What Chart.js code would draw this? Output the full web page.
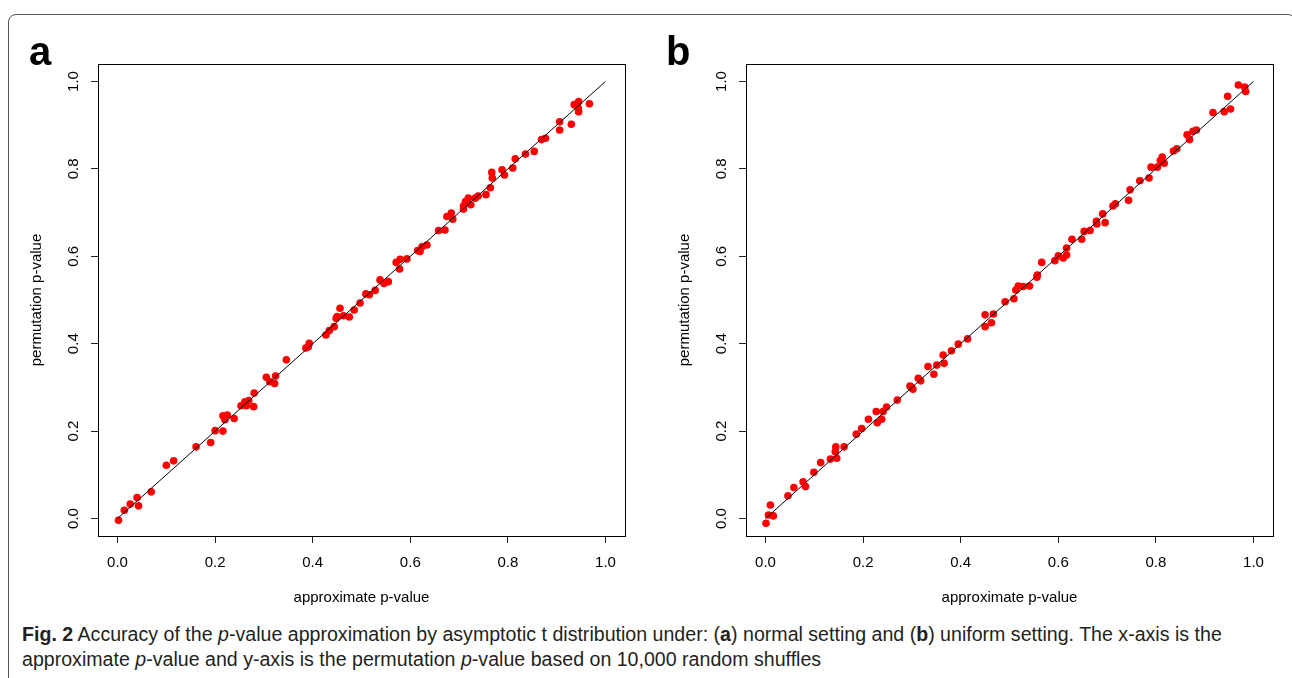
<!DOCTYPE html>
<html>
<head>
<meta charset="utf-8">
<title>Fig. 2 - p-value approximation</title>
<script src="https://cdn.jsdelivr.net/npm/chart.js"></script>
<style>
  body {
    margin: 0;
    width: 1292px;
    height: 678px;
    overflow: hidden;
    background: #fff;
    position: relative;
    font-family: "Liberation Sans", Arial, sans-serif;
  }
  .frame {
    position: absolute;
    left: 8px;
    top: 14px;
    width: 1288px;
    height: 720px;
    box-sizing: border-box;
    border: 1.5px solid #555;
    border-radius: 8px;
  }
  .panel {
    position: absolute;
    top: 0;
  }
  .tag {
    position: absolute;
    top: 31px;
    font: bold 40px/40px "Liberation Sans", Arial, sans-serif;
    color: #000;
  }
  .caption {
    position: absolute;
    left: 22px;
    top: 622px;
    font-family: "Liberation Sans", Arial, sans-serif;
    font-size: 19.6px;
    line-height: 25px;
    color: #231f20;
    white-space: nowrap;
  }
</style>
</head>
<body>
<div class="frame"></div>

<canvas id="chartA" class="panel" width="640" height="620" style="left:0px"></canvas>
<canvas id="chartB" class="panel" width="640" height="620" style="left:648px"></canvas>

<div class="tag" style="left:29px">a</div>
<div class="tag" style="left:666px">b</div>

<div class="caption">
  <b>Fig. 2</b> Accuracy of the <i>p</i>-value approximation by asymptotic t distribution under: (<b>a</b>) normal setting and (<b>b</b>) uniform setting. The x-axis is the<br>
  approximate <i>p</i>-value and y-axis is the permutation <i>p</i>-value based on 10,000 random shuffles
</div>

<script>
// (a) normal setting
var approxA = [0.002, 0.014, 0.026, 0.040, 0.043, 0.069, 0.100, 0.115, 0.161, 0.191,
               0.200, 0.216, 0.216, 0.220, 0.225, 0.239, 0.253, 0.261, 0.269, 0.264,
               0.279, 0.280, 0.305, 0.312, 0.324, 0.322, 0.346, 0.386, 0.393, 0.391,
               0.427, 0.434, 0.444, 0.448, 0.456, 0.450, 0.463, 0.475, 0.485, 0.497,
               0.509, 0.516, 0.528, 0.538, 0.546, 0.555, 0.571, 0.578, 0.579, 0.593,
               0.615, 0.624, 0.620, 0.634, 0.658, 0.671, 0.675, 0.684, 0.687, 0.709,
               0.713, 0.719, 0.724, 0.733, 0.739, 0.709, 0.755, 0.764, 0.767, 0.768,
               0.788, 0.793, 0.810, 0.815, 0.836, 0.854, 0.869, 0.877, 0.906, 0.906,
               0.930, 0.936, 0.945, 0.945, 0.944, 0.967];
var permA   = [-0.004, 0.019, 0.033, 0.048, 0.029, 0.061, 0.122, 0.132, 0.164, 0.174,
               0.201, 0.200, 0.235, 0.226, 0.237, 0.229, 0.258, 0.267, 0.270, 0.258,
               0.256, 0.287, 0.323, 0.313, 0.326, 0.309, 0.363, 0.390, 0.401, 0.393,
               0.420, 0.430, 0.439, 0.458, 0.481, 0.462, 0.464, 0.461, 0.477, 0.493,
               0.514, 0.512, 0.522, 0.546, 0.538, 0.542, 0.586, 0.571, 0.593, 0.594,
               0.613, 0.622, 0.611, 0.626, 0.659, 0.660, 0.691, 0.699, 0.685, 0.715,
               0.725, 0.733, 0.718, 0.733, 0.738, 0.708, 0.741, 0.757, 0.792, 0.779,
               0.798, 0.786, 0.802, 0.823, 0.834, 0.840, 0.867, 0.870, 0.908, 0.889,
               0.902, 0.947, 0.954, 0.931, 0.939, 0.949];

// (b) uniform setting
var approxB = [0.001, 0.006, 0.016, 0.010, 0.046, 0.058, 0.077, 0.082, 0.099, 0.113,
               0.133, 0.143, 0.144, 0.146, 0.161, 0.186, 0.197, 0.211, 0.227, 0.229,
               0.238, 0.241, 0.248, 0.270, 0.296, 0.302, 0.299, 0.313, 0.318, 0.333,
               0.345, 0.351, 0.366, 0.364, 0.381, 0.395, 0.414, 0.450, 0.450, 0.463,
               0.467, 0.491, 0.509, 0.513, 0.518, 0.528, 0.541, 0.556, 0.557, 0.566,
               0.593, 0.600, 0.610, 0.617, 0.617, 0.628, 0.648, 0.653, 0.665, 0.678,
               0.679, 0.691, 0.696, 0.712, 0.717, 0.744, 0.747, 0.767, 0.786, 0.790,
               0.803, 0.809, 0.813, 0.817, 0.836, 0.843, 0.864, 0.869, 0.876, 0.883,
               0.917, 0.940, 0.953, 0.947, 0.969, 0.982, 0.984];
var permB   = [-0.011, 0.008, 0.006, 0.031, 0.052, 0.071, 0.084, 0.073, 0.106, 0.128,
               0.136, 0.153, 0.164, 0.138, 0.164, 0.193, 0.206, 0.227, 0.245, 0.219,
               0.227, 0.245, 0.255, 0.271, 0.303, 0.296, 0.300, 0.321, 0.315, 0.348,
               0.330, 0.351, 0.355, 0.374, 0.384, 0.399, 0.411, 0.466, 0.439, 0.448,
               0.468, 0.496, 0.503, 0.523, 0.532, 0.531, 0.532, 0.552, 0.557, 0.586,
               0.590, 0.601, 0.596, 0.603, 0.619, 0.639, 0.639, 0.657, 0.659, 0.680,
               0.674, 0.697, 0.677, 0.715, 0.720, 0.728, 0.752, 0.773, 0.779, 0.804,
               0.804, 0.819, 0.827, 0.813, 0.841, 0.846, 0.878, 0.867, 0.886, 0.889,
               0.929, 0.931, 0.937, 0.966, 0.992, 0.987, 0.977];

// y = x reference line and axis ticks
var lineX = [0, 1];
var lineY = [0, 1];
var tickValues = [0, 0.2, 0.4, 0.6, 0.8, 1.0];

var axisFont = { family: '"Liberation Sans", Arial, sans-serif', size: 15 };

// box round the plot region like R's box()
var plotBox = {
  id: 'plotBox',
  afterDatasetsDraw: function(chart) {
    var a = chart.chartArea;
    var ctx = chart.ctx;
    ctx.save();
    ctx.strokeStyle = '#000';
    ctx.lineWidth = 1;
    ctx.strokeRect(Math.round(a.left) + 0.5, Math.round(a.top) + 0.5,
                   Math.round(a.right - a.left), Math.round(a.bottom - a.top));
    ctx.restore();
  }
};

function setTicks(scale) {
  scale.ticks = tickValues.map(function(v) { return { value: v }; });
}

function makePanel(id, xs, ys) {
  var points = xs.map(function(x, i) { return { x: x, y: ys[i] }; });
  var diag = lineX.map(function(x, i) { return { x: x, y: lineY[i] }; });

  return new Chart(document.getElementById(id), {
    type: 'scatter',
    data: {
      datasets: [
        {
          type: 'line',
          data: diag,
          borderColor: '#000',
          borderWidth: 1,
          pointRadius: 0,
          fill: false
        },
        {
          data: points,
          backgroundColor: '#ff0000',
          borderWidth: 0,
          pointRadius: 3.8
        }
      ]
    },
    options: {
      responsive: false,
      animation: false,
      devicePixelRatio: 1,
      layout: { padding: { left: 20, top: 64, right: 15, bottom: 4 } },
      plugins: {
        legend: { display: false },
        tooltip: { enabled: false }
      },
      scales: {
        x: {
          type: 'linear',
          min: -0.04,
          max: 1.04,
          afterBuildTicks: setTicks,
          afterFit: function(s) { s.height = 80; },
          border: { display: false },
          grid: { drawOnChartArea: false, tickLength: 7, color: '#222', lineWidth: 1 },
          ticks: {
            font: axisFont,
            color: '#000',
            padding: 11,
            maxRotation: 0,
            callback: function(v) { return v.toFixed(1); }
          },
          title: {
            display: true,
            text: 'approximate p-value',
            font: axisFont,
            color: '#000',
            padding: { top: 0, bottom: 9 }
          }
        },
        y: {
          type: 'linear',
          min: -0.04,
          max: 1.04,
          afterBuildTicks: setTicks,
          afterFit: function(s) { s.width = 78; },
          border: { display: false },
          grid: { drawOnChartArea: false, tickLength: 7, color: '#222', lineWidth: 1 },
          ticks: {
            font: axisFont,
            color: '#000',
            padding: 7,
            minRotation: 90,
            maxRotation: 90,
            crossAlign: 'center',
            callback: function(v) { return v.toFixed(1); }
          },
          title: {
            display: true,
            text: 'permutation p-value',
            font: axisFont,
            color: '#000',
            padding: { top: 7.5, bottom: 0 }
          }
        }
      }
    },
    plugins: [plotBox]
  });
}

makePanel('chartA', approxA, permA);
makePanel('chartB', approxB, permB);
</script>
</body>
</html>
